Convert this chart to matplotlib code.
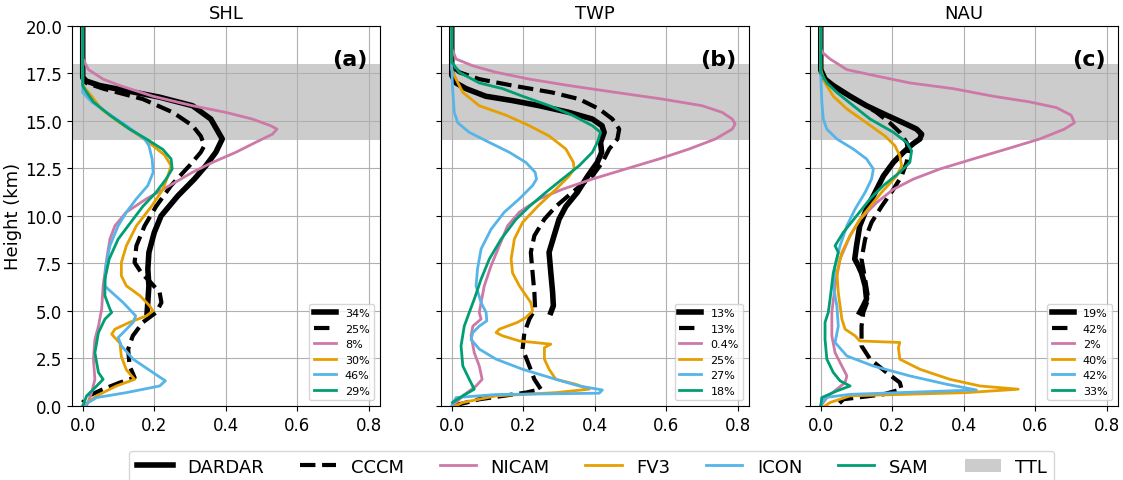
import matplotlib.pyplot as plt
from matplotlib.patches import Patch
from matplotlib.lines import Line2D

regions = ['SHL', 'TWP', 'NAU']
panel_tags = ['(a)', '(b)', '(c)']
models = ['DARDAR', 'CCCM', 'NICAM', 'FV3', 'ICON', 'SAM']

# percentages shown in each panel's small legend
pct_shl = ['34%', '25%', '8%', '30%', '46%', '29%']
pct_twp = ['13%', '13%', '0.4%', '25%', '27%', '18%']
pct_nau = ['19%', '42%', '2%', '40%', '42%', '33%']

# ---- SHL ----
shl_dardar_z = [20, 17.3, 17.1, 16.86, 16.6, 16.25, 15.8, 15.1, 14.05, 13.35, 12.64, 11.94, 11.06, 10.0, 9.13, 8.08, 7.2, 6.32, 4.92]
shl_dardar_x = [0, 0, 0.01, 0.048, 0.12, 0.215, 0.307, 0.358, 0.39, 0.372, 0.344, 0.312, 0.266, 0.219, 0.2, 0.185, 0.182, 0.185, 0.18]
shl_cccm_z = [20, 17.2, 17.0, 16.7, 16.15, 15.45, 14.75, 14.2, 13.7, 13.35, 12.64, 11.6, 10.5, 9.48, 8.43, 7.55, 7.0, 6.5, 5.97, 5.44, 4.92, 4.4, 3.69, 2.99, 2.1, 1.49, 1.23, 0.88, 0.53, 0.18]
shl_cccm_x = [0, 0, 0.01, 0.057, 0.168, 0.252, 0.307, 0.33, 0.34, 0.33, 0.298, 0.247, 0.205, 0.173, 0.15, 0.145, 0.164, 0.19, 0.215, 0.22, 0.205, 0.168, 0.14, 0.127, 0.131, 0.145, 0.104, 0.057, 0.016, 0.0]
shl_nicam_z = [20, 18.3, 18.1, 17.7, 17.2, 16.86, 16.3, 15.8, 15.45, 15.1, 14.75, 14.57, 14.3, 13.87, 13.35, 12.82, 12.3, 11.6, 10.9, 10.2, 9.48, 8.78, 7.73, 6.32, 5.1, 4.2, 3.5, 2.46, 1.4, 0.7, 0.0]
shl_nicam_x = [0, 0, 0.005, 0.016, 0.057, 0.104, 0.196, 0.307, 0.4, 0.474, 0.525, 0.543, 0.53, 0.483, 0.428, 0.363, 0.307, 0.243, 0.178, 0.122, 0.09, 0.076, 0.067, 0.057, 0.053, 0.044, 0.034, 0.03, 0.034, 0.025, 0.011]
shl_fv3_z = [20, 16.86, 16.3, 15.6, 14.9, 14.2, 13.7, 13.2, 12.64, 12.1, 11.4, 10.5, 9.48, 8.43, 7.55, 6.85, 6.32, 5.8, 5.27, 5.0, 4.74, 4.4, 4.04, 3.78, 3.69, 3.3, 2.6, 1.9, 1.4, 1.05, 0.53, 0.0]
shl_fv3_x = [0, 0, 0.025, 0.053, 0.104, 0.16, 0.196, 0.229, 0.247, 0.238, 0.224, 0.192, 0.15, 0.122, 0.108, 0.108, 0.122, 0.16, 0.187, 0.196, 0.178, 0.131, 0.09, 0.081, 0.085, 0.104, 0.108, 0.122, 0.145, 0.094, 0.039, 0.0]
shl_icon_z = [20, 16.5, 16.0, 15.45, 14.75, 14.05, 13.7, 13.0, 12.3, 11.6, 10.9, 10.2, 9.48, 8.43, 7.38, 6.32, 6.15, 5.44, 4.74, 4.4, 3.86, 3.6, 3.16, 2.46, 1.76, 1.32, 1.05, 0.7, 0.44, 0.0]
shl_icon_x = [0, 0, 0.025, 0.067, 0.122, 0.173, 0.185, 0.194, 0.197, 0.182, 0.15, 0.122, 0.099, 0.076, 0.065, 0.062, 0.071, 0.113, 0.148, 0.141, 0.113, 0.099, 0.108, 0.141, 0.196, 0.231, 0.215, 0.122, 0.039, 0.0]
shl_sam_z = [20, 16.86, 16.5, 16.0, 15.3, 14.57, 14.05, 13.5, 13.0, 12.47, 11.94, 11.24, 10.5, 9.83, 8.78, 7.73, 6.67, 5.8, 5.1, 4.92, 4.57, 3.86, 2.8, 1.76, 1.4, 1.05, 0.53, 0.0]
shl_sam_x = [0, 0, 0.011, 0.03, 0.076, 0.131, 0.178, 0.224, 0.247, 0.25, 0.233, 0.205, 0.168, 0.141, 0.099, 0.074, 0.062, 0.062, 0.076, 0.081, 0.062, 0.044, 0.034, 0.044, 0.057, 0.039, 0.011, 0.0]

# ---- TWP ----
twp_dardar_z = [20, 17.4, 17.0, 16.7, 16.3, 16.07, 15.8, 15.45, 15.1, 14.75, 14.4, 13.87, 13.35, 12.82, 12.1, 11.24, 10.5, 9.83, 8.96, 8.08, 7.0, 5.97, 5.27, 4.92]
twp_dardar_x = [0, 0, 0.012, 0.04, 0.095, 0.17, 0.245, 0.328, 0.393, 0.42, 0.426, 0.416, 0.419, 0.407, 0.38, 0.351, 0.319, 0.3, 0.286, 0.272, 0.277, 0.282, 0.284, 0.277]
twp_cccm_z = [20, 17.9, 17.56, 17.2, 16.86, 16.5, 16.15, 15.63, 15.1, 14.57, 14.05, 13.52, 12.82, 12.1, 11.24, 10.5, 9.83, 8.96, 8.08, 7.0, 5.97, 5.1, 4.57, 3.86, 2.99, 2.1, 1.4, 0.88, 0.7, 0.35, 0.0]
twp_cccm_x = [0, 0, 0.021, 0.077, 0.17, 0.28, 0.356, 0.412, 0.449, 0.468, 0.463, 0.44, 0.421, 0.393, 0.337, 0.291, 0.259, 0.231, 0.221, 0.226, 0.231, 0.233, 0.217, 0.203, 0.198, 0.217, 0.231, 0.249, 0.207, 0.077, 0.003]
twp_nicam_z = [20, 18.8, 18.6, 18.26, 17.9, 17.56, 17.2, 16.86, 16.5, 16.15, 15.8, 15.45, 15.1, 14.84, 14.57, 14.05, 13.52, 13.0, 12.47, 11.94, 11.4, 10.9, 10.2, 9.48, 8.43, 7.38, 6.32, 5.44, 4.92, 4.57, 4.2, 3.69, 2.8, 2.1, 1.4, 1.05, 0.53, 0.0]
twp_nicam_x = [0, 0, 0.005, 0.012, 0.059, 0.124, 0.217, 0.328, 0.459, 0.589, 0.7, 0.756, 0.784, 0.792, 0.784, 0.737, 0.663, 0.58, 0.486, 0.393, 0.309, 0.245, 0.189, 0.156, 0.133, 0.11, 0.091, 0.082, 0.077, 0.082, 0.059, 0.054, 0.063, 0.077, 0.085, 0.068, 0.031, 0.003]
twp_fv3_z = [20, 17.7, 17.2, 16.5, 15.8, 15.3, 14.75, 14.2, 13.52, 12.82, 12.47, 12.1, 11.4, 10.5, 9.66, 8.78, 7.73, 7.0, 6.32, 5.44, 5.0, 4.65, 4.4, 4.04, 3.86, 3.69, 3.42, 3.25, 3.07, 2.46, 1.93, 1.4, 1.14, 0.88, 0.7, 0.53, 0.18, 0.0]
twp_fv3_x = [0, 0, 0.012, 0.031, 0.077, 0.152, 0.217, 0.273, 0.319, 0.34, 0.342, 0.328, 0.291, 0.24, 0.198, 0.175, 0.166, 0.17, 0.189, 0.221, 0.226, 0.207, 0.184, 0.133, 0.124, 0.142, 0.189, 0.277, 0.259, 0.259, 0.272, 0.291, 0.347, 0.384, 0.291, 0.124, 0.031, 0.011]
twp_icon_z = [20, 17.9, 16.86, 15.45, 14.9, 14.4, 13.87, 13.35, 12.82, 12.3, 11.94, 11.6, 10.9, 10.2, 9.3, 8.26, 7.2, 6.32, 5.44, 4.92, 4.48, 4.2, 3.86, 3.5, 2.99, 2.46, 1.93, 1.4, 1.05, 0.84, 0.67, 0.6, 0.44, 0.0]
twp_icon_x = [0, 0, 0.002, 0.007, 0.017, 0.049, 0.105, 0.161, 0.207, 0.233, 0.237, 0.226, 0.189, 0.147, 0.11, 0.082, 0.072, 0.068, 0.082, 0.096, 0.098, 0.077, 0.059, 0.054, 0.077, 0.124, 0.198, 0.291, 0.356, 0.421, 0.412, 0.124, 0.012, 0.0]
twp_sam_z = [20, 18.1, 17.56, 17.0, 16.7, 16.3, 15.8, 15.3, 14.75, 14.4, 13.87, 13.35, 12.64, 11.94, 11.24, 10.5, 9.83, 8.78, 7.73, 6.67, 5.62, 4.92, 4.2, 3.16, 2.1, 1.4, 0.88, 0.53, 0.18]
twp_sam_x = [0, 0, 0.021, 0.077, 0.142, 0.198, 0.273, 0.337, 0.393, 0.416, 0.407, 0.393, 0.356, 0.309, 0.263, 0.217, 0.18, 0.138, 0.105, 0.082, 0.063, 0.049, 0.035, 0.026, 0.031, 0.049, 0.063, 0.031, 0.002]

# ---- NAU ----
nau_dardar_z = [20, 17.7, 17.2, 16.86, 16.3, 15.8, 15.3, 14.9, 14.57, 14.3, 14.05, 13.8, 13.35, 12.82, 12.1, 11.24, 10.36, 9.48, 8.43, 7.73, 7.38, 7.0, 6.32, 5.62, 5.27, 4.92]
nau_dardar_x = [0, 0, 0.012, 0.035, 0.082, 0.128, 0.184, 0.231, 0.268, 0.282, 0.277, 0.258, 0.231, 0.203, 0.175, 0.152, 0.128, 0.109, 0.1, 0.095, 0.105, 0.114, 0.124, 0.128, 0.119, 0.109]
nau_cccm_z = [20, 17.56, 17.0, 16.5, 16.0, 15.45, 14.9, 14.4, 13.87, 13.35, 12.82, 12.1, 11.4, 10.5, 9.66, 8.78, 7.73, 6.67, 5.62, 4.92, 4.2, 3.16, 2.46, 1.76, 1.23, 0.88, 0.61, 0.35, 0.1]
nau_cccm_x = [0, 0, 0.017, 0.063, 0.11, 0.156, 0.193, 0.221, 0.24, 0.245, 0.24, 0.226, 0.203, 0.17, 0.142, 0.124, 0.114, 0.124, 0.133, 0.119, 0.114, 0.114, 0.138, 0.184, 0.221, 0.226, 0.175, 0.063, 0.05]
nau_nicam_z = [20, 18.8, 18.6, 18.26, 17.7, 17.4, 17.0, 16.7, 16.3, 16.0, 15.7, 15.3, 14.9, 14.57, 14.05, 13.52, 13.0, 12.47, 11.94, 11.4, 10.7, 9.83, 8.96, 7.73, 6.32, 4.92, 3.69, 2.8, 2.1, 1.58, 1.23, 0.88, 0.53, 0.0]
nau_nicam_x = [0, 0, 0.005, 0.026, 0.073, 0.147, 0.249, 0.37, 0.482, 0.584, 0.659, 0.7, 0.709, 0.681, 0.612, 0.519, 0.426, 0.333, 0.259, 0.203, 0.156, 0.11, 0.082, 0.054, 0.04, 0.031, 0.031, 0.04, 0.059, 0.073, 0.068, 0.045, 0.021, 0.0]
nau_fv3_z = [20, 17.7, 17.0, 16.3, 15.63, 14.9, 14.2, 13.7, 13.17, 12.64, 12.1, 11.24, 10.5, 9.83, 8.96, 8.08, 7.0, 5.97, 5.27, 4.57, 4.04, 3.69, 3.42, 3.34, 3.07, 2.46, 1.93, 1.4, 1.05, 0.88, 0.7, 0.53, 0.18, 0.0]
nau_fv3_x = [0, 0, 0.012, 0.035, 0.073, 0.128, 0.18, 0.207, 0.221, 0.226, 0.212, 0.17, 0.138, 0.11, 0.082, 0.059, 0.045, 0.049, 0.054, 0.059, 0.068, 0.096, 0.109, 0.221, 0.217, 0.221, 0.277, 0.361, 0.445, 0.552, 0.407, 0.082, 0.026, 0.012]
nau_icon_z = [20, 17.4, 16.0, 15.1, 14.57, 14.05, 13.52, 13.0, 12.47, 11.94, 11.24, 10.36, 9.48, 8.43, 7.38, 6.32, 5.27, 4.2, 3.34, 2.63, 2.1, 1.58, 1.14, 0.84, 0.61, 0.44, 0.0]
nau_icon_x = [0, 0, 0.003, 0.007, 0.017, 0.045, 0.091, 0.128, 0.147, 0.142, 0.124, 0.096, 0.073, 0.054, 0.04, 0.035, 0.045, 0.049, 0.04, 0.073, 0.147, 0.249, 0.352, 0.435, 0.082, 0.012, 0.0]
nau_sam_z = [20, 17.56, 17.0, 16.5, 15.8, 15.1, 14.4, 13.87, 13.43, 12.82, 12.3, 11.6, 10.9, 10.0, 9.13, 8.43, 8.08, 7.0, 5.62, 4.92, 4.4, 3.5, 2.46, 1.76, 1.32, 1.05, 0.79, 0.44, 0.0]
nau_sam_x = [0, 0, 0.017, 0.045, 0.091, 0.138, 0.203, 0.24, 0.254, 0.249, 0.221, 0.175, 0.138, 0.1, 0.063, 0.04, 0.049, 0.035, 0.026, 0.021, 0.012, 0.012, 0.017, 0.035, 0.054, 0.082, 0.045, 0.003, 0.0]

profiles = [
    [(shl_dardar_x, shl_dardar_z), (shl_cccm_x, shl_cccm_z), (shl_nicam_x, shl_nicam_z),
     (shl_fv3_x, shl_fv3_z), (shl_icon_x, shl_icon_z), (shl_sam_x, shl_sam_z)],
    [(twp_dardar_x, twp_dardar_z), (twp_cccm_x, twp_cccm_z), (twp_nicam_x, twp_nicam_z),
     (twp_fv3_x, twp_fv3_z), (twp_icon_x, twp_icon_z), (twp_sam_x, twp_sam_z)],
    [(nau_dardar_x, nau_dardar_z), (nau_cccm_x, nau_cccm_z), (nau_nicam_x, nau_nicam_z),
     (nau_fv3_x, nau_fv3_z), (nau_icon_x, nau_icon_z), (nau_sam_x, nau_sam_z)],
]
pcts = [pct_shl, pct_twp, pct_nau]

colors = ['black', 'black', '#CC79A7', '#E69F00', '#56B4E9', '#009E73']
styles = ['-', '--', '-', '-', '-', '-']
widths = [4, 3, 2, 2, 2, 2]

fig = plt.figure(figsize=(11.23, 4.81), dpi=100)
lefts = [0.0641, 0.3927, 0.7213]
axes = []
for i in range(3):
    ax = fig.add_axes([lefts[i], 0.154, 0.274, 0.790], sharey=axes[0] if axes else None)
    axes.append(ax)
    ax.axhspan(14, 18, color='gray', alpha=0.4, lw=0)
    for j, (xv, zv) in enumerate(profiles[i]):
        ax.plot(xv, zv, color=colors[j], ls=styles[j], lw=widths[j], label=pcts[i][j])
    ax.set_xlim(-0.03, 0.83)
    ax.set_ylim(0, 20)
    ax.set_xticks([0, 0.2, 0.4, 0.6, 0.8])
    ax.set_yticks([0, 2.5, 5, 7.5, 10, 12.5, 15, 17.5, 20])
    ax.tick_params(labelsize=12)
    ax.grid(True)
    ax.set_title(regions[i], fontsize=13)
    ax.text(0.96, 0.94, panel_tags[i], transform=ax.transAxes, ha='right', va='top',
            fontsize=16, fontweight='bold')
    ax.legend(loc='lower right', fontsize=8)
    if i > 0:
        plt.setp(ax.get_yticklabels(), visible=False)
axes[0].set_ylabel('Height (km)', fontsize=13, labelpad=2)

handles = [Line2D([], [], color=colors[j], ls=styles[j], lw=widths[j]) for j in range(6)]
handles.append(Patch(facecolor='gray', alpha=0.4))
fig.legend(handles, models + ['TTL'], loc='lower center', ncol=7, fontsize=13,
           bbox_to_anchor=(0.527, -0.025))

plt.savefig('out.png', dpi=100)
